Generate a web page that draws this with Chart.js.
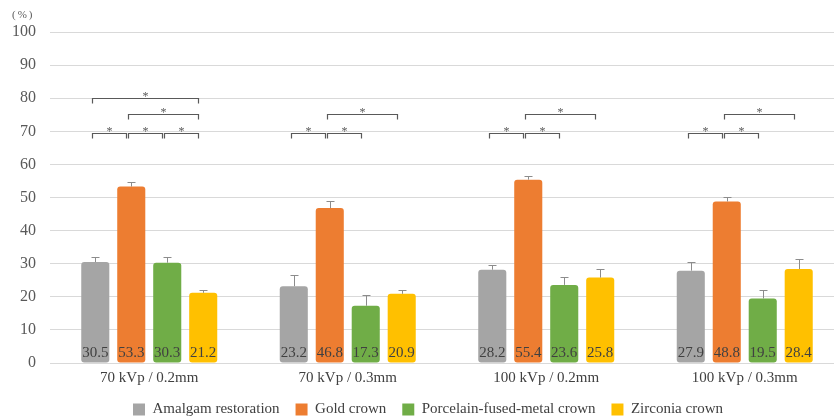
<!DOCTYPE html>
<html>
<head>
<meta charset="utf-8">
<script src="https://cdn.jsdelivr.net/npm/chart.js@4.4.0/dist/chart.umd.min.js"></script>
<style>
  html, body { margin: 0; padding: 0; background: #ffffff; overflow: hidden; }
  #wrap { position: relative; width: 856px; height: 418px; }
</style>
</head>
<body>
<div id="wrap"><canvas id="c"></canvas></div>
<script>
const categories = ['70 kVp / 0.2mm', '70 kVp / 0.3mm', '100 kVp / 0.2mm', '100 kVp / 0.3mm'];
const seriesNames = ['Amalgam restoration', 'Gold crown', 'Porcelain-fused-metal crown', 'Zirconia crown'];
const amalgam = [30.5, 23.2, 28.2, 27.9];
const gold = [53.3, 46.8, 55.4, 48.8];
const pfm = [30.3, 17.3, 23.6, 19.5];
const zirconia = [21.2, 20.9, 25.8, 28.4];
const amalgamErr = [1.4, 3.4, 1.4, 2.5];
const goldErr = [1.5, 2.2, 1.1, 1.5];
const pfmErr = [1.6, 3.2, 2.3, 2.6];
const zirconiaErr = [1.0, 1.2, 2.6, 3.0];
const yTicks = [0, 10, 20, 30, 40, 50, 60, 70, 80, 90, 100];
// significance brackets: [category index, from series, to series, level]
const brackets = [
  [0, 0, 1, 69.6], [0, 1, 2, 69.6], [0, 2, 3, 69.6], [0, 1, 3, 75.2], [0, 0, 3, 80.2],
  [1, 0, 1, 69.6], [1, 1, 2, 69.6], [1, 1, 3, 75.2],
  [2, 0, 1, 69.6], [2, 1, 2, 69.6], [2, 1, 3, 75.2],
  [3, 0, 1, 69.6], [3, 1, 2, 69.6], [3, 1, 3, 75.2]
];

const colors = ['#A5A5A5', '#ED7D31', '#70AD47', '#FFC000'];
const values = [amalgam, gold, pfm, zirconia];
const errors = [amalgamErr, goldErr, pfmErr, zirconiaErr];
const SERIF = '"Liberation Serif", "Times New Roman", serif';

const overlay = {
  id: 'overlay',
  afterDatasetsDraw(chart) {
    const ctx = chart.ctx;
    const y = chart.scales.y;
    ctx.save();
    // error bars
    ctx.strokeStyle = '#8c8c8c';
    ctx.lineWidth = 1;
    values.forEach((vals, si) => {
      const meta = chart.getDatasetMeta(si);
      meta.data.forEach((bar, ci) => {
        const x = Math.round(bar.x) + 0.5;
        const y0 = y.getPixelForValue(vals[ci]);
        const y1 = Math.round(y.getPixelForValue(vals[ci] + errors[si][ci])) + 0.5;
        ctx.beginPath();
        ctx.moveTo(x, y0);
        ctx.lineTo(x, y1);
        ctx.moveTo(x - 4, y1);
        ctx.lineTo(x + 4, y1);
        ctx.stroke();
      });
    });
    // value labels
    ctx.fillStyle = '#404040';
    ctx.font = '15px ' + SERIF;
    ctx.textAlign = 'center';
    ctx.textBaseline = 'alphabetic';
    values.forEach((vals, si) => {
      const meta = chart.getDatasetMeta(si);
      meta.data.forEach((bar, ci) => {
        ctx.fillText(vals[ci].toFixed(1), bar.x, y.getPixelForValue(0) - 6);
      });
    });
    // brackets
    ctx.strokeStyle = '#595959';
    ctx.fillStyle = '#595959';
    ctx.lineWidth = 1.2;
    ctx.font = '12px ' + SERIF;
    brackets.forEach(([ci, a, b, lvl]) => {
      const xa = Math.round(chart.getDatasetMeta(a).data[ci].x) - 2.5;
      const xb = Math.round(chart.getDatasetMeta(b).data[ci].x) - 4.5;
      const yy = Math.round(y.getPixelForValue(lvl)) + 0.5;
      ctx.beginPath();
      ctx.moveTo(xa, yy + 5);
      ctx.lineTo(xa, yy);
      ctx.lineTo(xb, yy);
      ctx.lineTo(xb, yy + 5);
      ctx.stroke();
      ctx.fillText('*', (xa + xb) / 2, yy + 1);
    });
    // unit label
    ctx.fillStyle = '#595959';
    ctx.font = '11px ' + SERIF;
    ctx.textAlign = 'left';
    ctx.textBaseline = 'middle';
    if ('letterSpacing' in ctx) ctx.letterSpacing = '2px';
    ctx.fillText('(%)', 12, 15);
    ctx.restore();
  }
};

new Chart(document.getElementById('c'), {
  type: 'bar',
  data: {
    labels: categories,
    datasets: values.map((vals, i) => ({
      label: seriesNames[i],
      data: vals,
      backgroundColor: colors[i],
      borderRadius: 3,
      borderSkipped: false,
      categoryPercentage: 0.725,
      barPercentage: 0.78
    }))
  },
  options: {
    responsive: true,
    maintainAspectRatio: false,
    animation: false,
    layout: { padding: { top: 32, left: 12, right: 12, bottom: -9 } },
    plugins: {
      tooltip: { enabled: false },
      legend: {
        position: 'bottom',
        labels: {
          boxWidth: 12,
          boxHeight: 12,
          padding: 16,
          color: '#404040',
          font: { family: SERIF, size: 15 }
        }
      }
    },
    scales: {
      x: {
        grid: { display: false, drawTicks: false },
        border: { display: false },
        afterFit(scale) { scale.height = scale.height - 7; },
        ticks: { color: '#404040', font: { family: SERIF, size: 15 }, padding: 6 }
      },
      y: {
        min: 0,
        max: 100,
        afterBuildTicks(scale) { scale.ticks = yTicks.map(v => ({ value: v })); },
        afterFit(scale) { scale.width = 38; },
        grid: { color: '#d9d9d9', lineWidth: 1, drawTicks: false },
        border: { display: false },
        ticks: { color: '#595959', font: { family: SERIF, size: 16 }, padding: 14 }
      }
    }
  },
  plugins: [overlay]
});
</script>
</body>
</html>
